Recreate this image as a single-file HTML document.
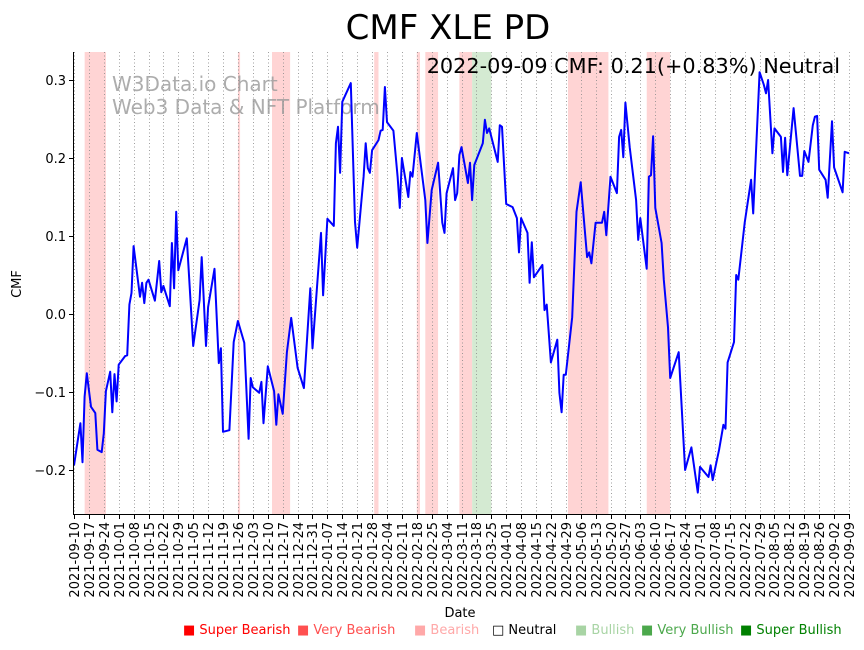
<!DOCTYPE html>
<html><head><meta charset="utf-8"><style>
body{margin:0;background:#fff;width:864px;height:646px;overflow:hidden;font-family:"DejaVu Sans","Liberation Sans",sans-serif}
</style></head><body>
<svg id="chart" width="864" height="646" xmlns="http://www.w3.org/2000/svg" font-family="DejaVu Sans, Liberation Sans, sans-serif">
<text x="448" y="39" font-size="34" text-anchor="middle">CMF XLE PD</text>
<g id="bands"></g>
<g id="grid"></g>
<g fill="#999" fill-opacity="0.8" font-size="20">
<text x="112" y="91">W3Data.io Chart</text>
<text x="112" y="114">Web3 Data &amp; NFT Platform</text>
</g>
<path id="line" fill="none" stroke="#0000ff" stroke-width="2" stroke-linejoin="round"/>
<line x1="73.5" y1="52" x2="73.5" y2="514" stroke="#000"/>
<line x1="73" y1="514.5" x2="850" y2="514.5" stroke="#000"/>
<g id="yticks" font-size="13"></g>
<g id="xticks" font-size="13"></g>
<text x="840" y="73" font-size="20.8" text-anchor="end">2022-09-09 CMF: 0.21(+0.83%) Neutral</text>
<text transform="translate(21,284) rotate(-90)" font-size="13" text-anchor="middle">CMF</text>
<text x="460" y="617" font-size="13" text-anchor="middle">Date</text>
<g font-size="13">
<text x="183" y="634" fill="#ff0000">■ Super Bearish</text>
<text x="297" y="634" fill="#ff5050">■ Very Bearish</text>
<text x="414" y="634" fill="#ffa8a8">■ Bearish</text>
<text x="492" y="634" fill="#000">□ Neutral</text>
<text x="575" y="634" fill="#a8d4a4">■ Bullish</text>
<text x="641" y="634" fill="#4ca84c">■ Very Bullish</text>
<text x="740" y="634" fill="#008000">■ Super Bullish</text>
</g>
</svg>
<script>
const days=[0,3,4,5,6,8,10,11,13,14,15,17,18,19,20,21,24,25,26,27,28,31,32,33,34,35,38,40,41,42,45,46,47,48,49,53,56,59,60,62,63,66,68,69,70,73,75,77,80,82,83,84,87,88,89,91,94,95,96,98,100,102,105,108,111,112,116,117,119,122,123,124,125,126,130,132,133,136,137,138,139,140,143,144,145,146,147,150,152,153,154,157,158,159,161,165,166,168,171,173,174,175,178,179,180,181,182,185,186,187,188,192,193,194,195,199,200,201,203,206,208,209,210,213,214,215,216,220,221,222,224,227,228,229,230,231,234,236,238,241,242,243,245,248,249,250,252,255,256,257,258,259,261,264,265,266,269,270,271,272,273,276,277,279,280,284,287,290,291,293,294,298,299,300,303,305,306,307,310,311,312,315,318,319,322,324,325,326,328,329,332,333,334,335,338,341,342,343,345,347,348,349,350,353,354,356,357,361,362,364];
const cmf=[-0.194,-0.140,-0.190,-0.106,-0.076,-0.119,-0.127,-0.174,-0.177,-0.153,-0.099,-0.074,-0.126,-0.077,-0.112,-0.065,-0.054,-0.053,0.012,0.027,0.087,0.022,0.040,0.014,0.040,0.044,0.017,0.068,0.028,0.036,0.010,0.091,0.033,0.131,0.056,0.097,-0.041,0.018,0.073,-0.041,0.009,0.058,-0.063,-0.044,-0.151,-0.149,-0.036,-0.009,-0.037,-0.160,-0.082,-0.094,-0.101,-0.087,-0.140,-0.067,-0.099,-0.142,-0.103,-0.128,-0.049,-0.005,-0.069,-0.095,0.033,-0.044,0.104,0.024,0.122,0.113,0.219,0.240,0.181,0.272,0.296,0.118,0.085,0.176,0.219,0.187,0.181,0.210,0.223,0.235,0.236,0.291,0.246,0.235,0.176,0.136,0.200,0.150,0.182,0.176,0.232,0.146,0.091,0.159,0.194,0.117,0.104,0.155,0.187,0.146,0.155,0.204,0.214,0.168,0.194,0.146,0.191,0.219,0.249,0.232,0.238,0.195,0.242,0.240,0.141,0.137,0.123,0.079,0.123,0.104,0.040,0.092,0.047,0.063,0.005,0.012,-0.062,-0.033,-0.101,-0.126,-0.078,-0.078,-0.004,0.131,0.169,0.073,0.079,0.065,0.117,0.117,0.131,0.101,0.176,0.155,0.227,0.236,0.201,0.271,0.214,0.146,0.095,0.123,0.058,0.176,0.178,0.228,0.136,0.091,0.044,-0.017,-0.082,-0.049,-0.200,-0.171,-0.191,-0.229,-0.196,-0.209,-0.194,-0.213,-0.174,-0.142,-0.147,-0.062,-0.036,0.050,0.044,0.117,0.172,0.129,0.310,0.294,0.283,0.300,0.206,0.238,0.227,0.182,0.226,0.178,0.264,0.177,0.177,0.209,0.195,0.242,0.253,0.254,0.185,0.172,0.149,0.247,0.188,0.156,0.208,0.206];
const bandStart=[5,77,93,141,161,165,181,232,269,187];
const bandEnd=[15,78,101.5,143,162.5,171,187,251,280,196];
const bandType=['bear','bear','bear','bear','bear','bear','bear','bear','bear','bull'];
const yTicks=[-0.2,-0.1,0.0,0.1,0.2,0.3];
const yLabels=['\u22120.2','\u22120.1','0.0','0.1','0.2','0.3'];
const startDate=[2021,8,10];
const NS='http://www.w3.org/2000/svg';
const X=d=>74+d*775/364;
const Y=v=>314-v*780;
const mk=(t,a)=>{const e=document.createElementNS(NS,t);for(const k in a)e.setAttribute(k,a[k]);return e;};
const bands=document.getElementById('bands');
bandStart.forEach((s,i)=>{
 const r=mk('rect',{x:X(s),y:52,width:X(bandEnd[i])-X(s),height:462,fill:bandType[i]==='bull'?'#d4ead2':'#ffd4d4'});
 
 
 bands.appendChild(r);
});
const grid=document.getElementById('grid'),xt=document.getElementById('xticks');
for(let w=0;w<=52;w++){
 const x=Math.round(X(w*7))+0.5;
 const g=mk('line',{x1:x,y1:52,x2:x,y2:514,stroke:'#888','stroke-width':0.8,'stroke-dasharray':'1,2.5'});
 
 
 grid.appendChild(g);
 const tk=mk('line',{x1:x,y1:514,x2:x,y2:519,stroke:'#000'});
 
 
 xt.appendChild(tk);
 const d=new Date(Date.UTC(startDate[0],startDate[1],startDate[2]+w*7));
 const s=d.toISOString().slice(0,10);
 const t=mk('text',{transform:`translate(${x+4.5},522) rotate(-90)`,'text-anchor':'end'});
 
 
 t.textContent=s;xt.appendChild(t);
}
const yt=document.getElementById('yticks');
yTicks.forEach((v,i)=>{
 const y=Math.round(Y(v))+0.5;
 const tk=mk('line',{x1:69,y1:y,x2:73,y2:y,stroke:'#000'});
 
 
 yt.appendChild(tk);
 const t=mk('text',{x:66,y:y+4.5,'text-anchor':'end'});
 
 
 t.textContent=yLabels[i];yt.appendChild(t);
});
document.getElementById('line').setAttribute('d',days.map((d,i)=>(i?'L':'M')+X(d).toFixed(1)+','+Y(cmf[i]).toFixed(1)).join(''));
</script>
</body></html>
